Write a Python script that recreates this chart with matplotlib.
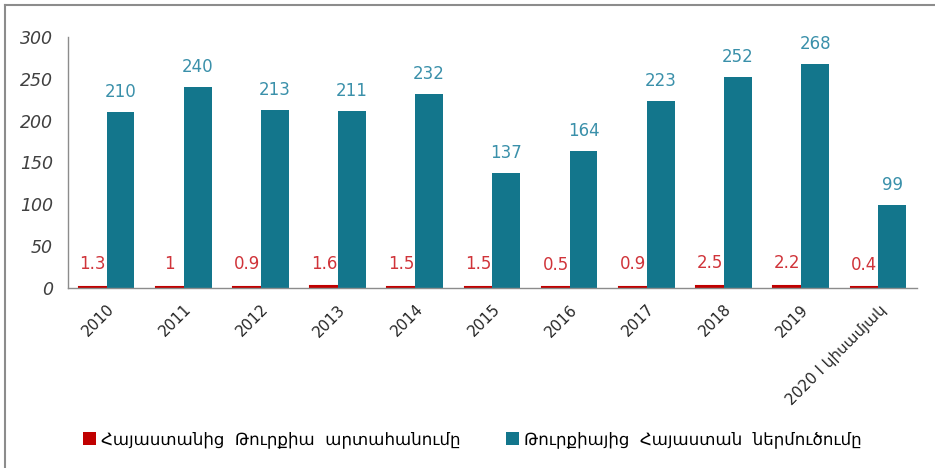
import matplotlib
matplotlib.use("Agg")
import matplotlib.pyplot as plt
import numpy as np
from matplotlib.lines import Line2D
from matplotlib.patches import Patch

plt.rcParams['font.family'] = ['DejaVu Sans']

years = ["2010", "2011", "2012", "2013", "2014", "2015", "2016", "2017",
         "2018", "2019", "2020 I կիսամյակ"]
export_am_tr = [1.3, 1, 0.9, 1.6, 1.5, 1.5, 0.5, 0.9, 2.5, 2.2, 0.4]
import_tr_am = [210, 240, 213, 211, 232, 137, 164, 223, 252, 268, 99]
export_labels = ["1.3", "1", "0.9", "1.6", "1.5", "1.5", "0.5", "0.9", "2.5", "2.2", "0.4"]
series_names = ["Հայաստանից  Թուրքիա  արտահանումը",
                "Թուրքիայից  Հայաստան  ներմուծումը"]

RED = "#c00000"
TEAL = "#13768c"
RED_TXT = "#d0343a"
TEAL_TXT = "#3a90aa"

fig = plt.figure(figsize=(9.35, 4.68), dpi=100)
ax = fig.add_axes([0.0727, 0.385, 0.908, 0.536])

x = np.arange(len(years))
w = 0.36
# tiny export values: a thin edge keeps them visible like in the source chart
ax.bar(x - w / 2, export_am_tr, w, color=RED, edgecolor=RED, linewidth=1.5)
ax.bar(x + w / 2, import_tr_am, w, color=TEAL)

for xi, v, s in zip(x, export_am_tr, export_labels):
    ax.annotate(s, (xi - w / 2, v), xytext=(0, 10), textcoords="offset points",
                ha="center", va="bottom", color=RED_TXT, fontsize=12)
for xi, v in zip(x, import_tr_am):
    ax.annotate(str(v), (xi + w / 2, v), xytext=(0, 8), textcoords="offset points",
                ha="center", va="bottom", color=TEAL_TXT, fontsize=12)

ax.set_xlim(-0.5, len(years) - 0.5)
ax.set_ylim(0, 300)
ax.set_yticks([0, 50, 100, 150, 200, 250, 300])
ax.tick_params(axis='y', length=0, pad=11, labelsize=12.5, labelcolor="#404040")
for t in ax.get_yticklabels():
    t.set_fontstyle("italic")
ax.set_xticks(x)
ax.set_xticklabels(years, rotation=45, ha="right", rotation_mode="anchor",
                   fontsize=11, color="#262626")
ax.tick_params(axis='x', length=0, pad=10)

for side in ["top", "right"]:
    ax.spines[side].set_visible(False)
for side in ["left", "bottom"]:
    ax.spines[side].set_color("#8c8c8c")
    ax.spines[side].set_linewidth(1.0)

handles = [Patch(facecolor=RED, label=series_names[0]),
           Patch(facecolor=TEAL, label=series_names[1])]
fig.legend(handles=handles, loc="center left", bbox_to_anchor=(0.0727, 0.062),
           ncol=2, frameon=False, fontsize=12, handlelength=0.8,
           handleheight=0.8, handletextpad=0.3, columnspacing=2.7)

# outer frame lines (left and top)
fig.add_artist(Line2D([5 / 935, 5 / 935], [0, 1 - 5 / 468], color="#8c8c8c",
                      linewidth=1.5, transform=fig.transFigure))
fig.add_artist(Line2D([5 / 935, 1], [1 - 5 / 468, 1 - 5 / 468], color="#8c8c8c",
                      linewidth=1.5, transform=fig.transFigure))

fig.savefig("out.png", dpi=100)
